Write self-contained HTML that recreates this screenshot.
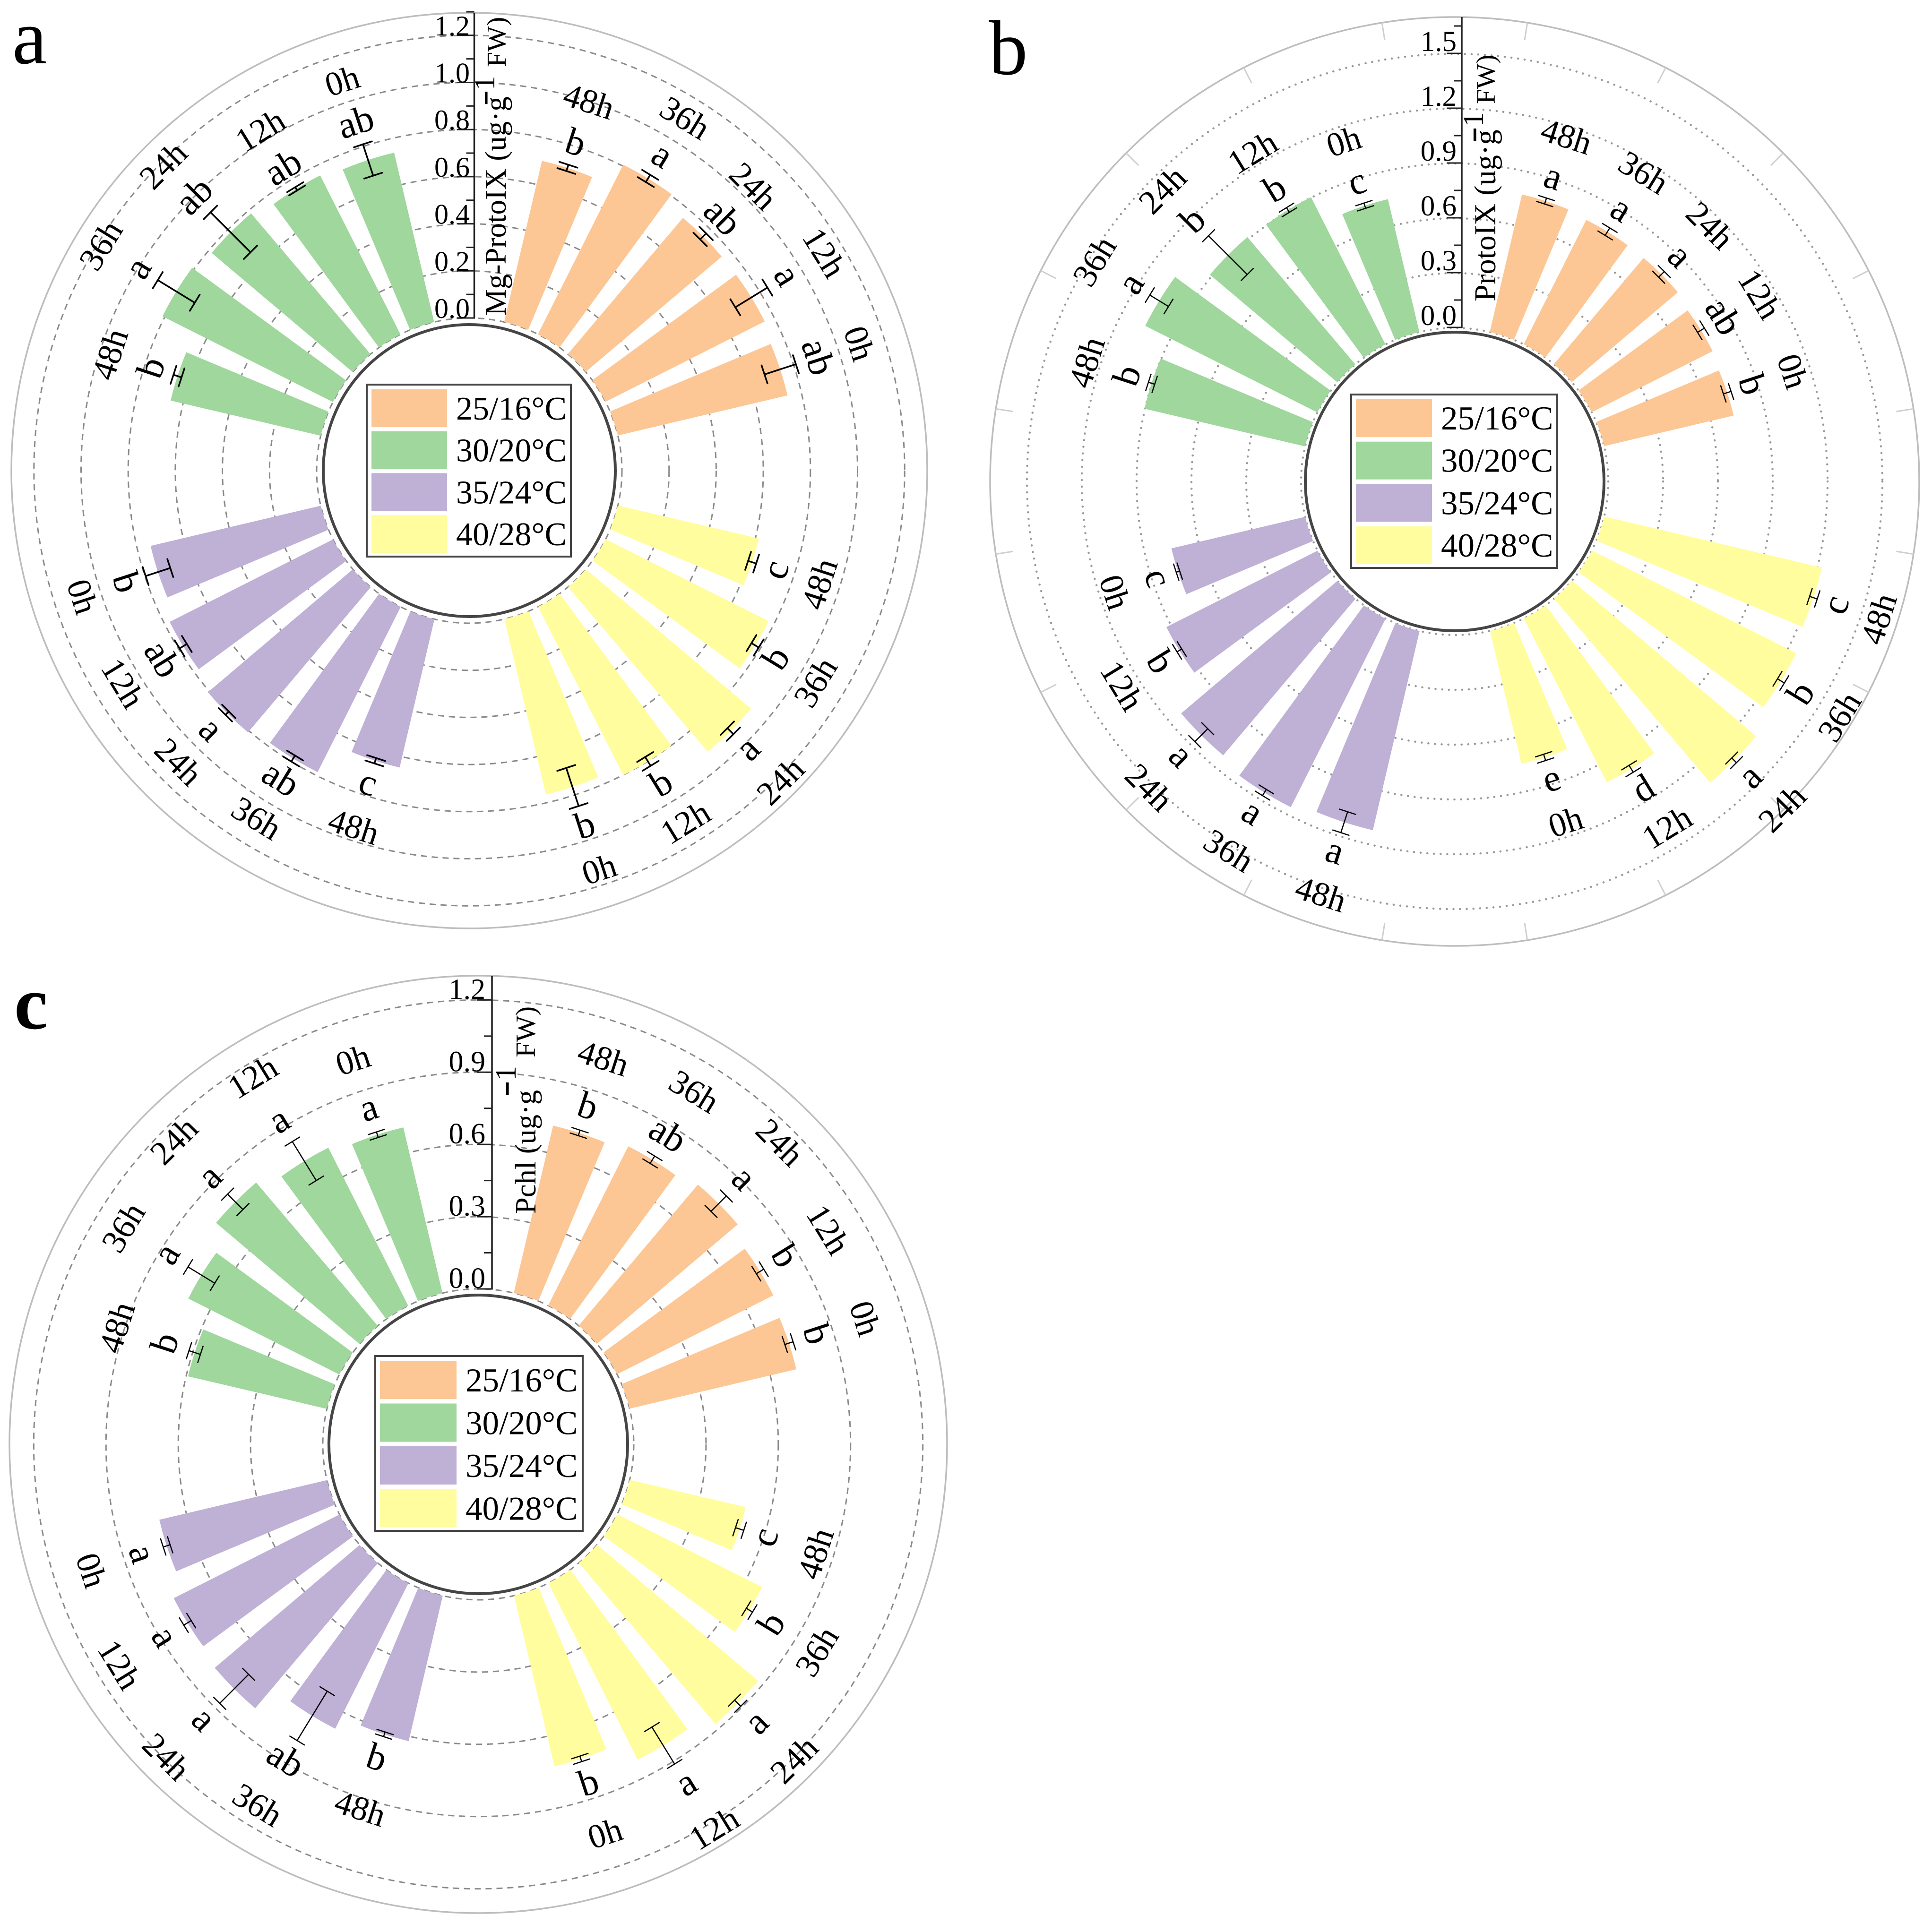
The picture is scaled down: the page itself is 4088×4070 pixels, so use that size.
<!DOCTYPE html>
<html lang="en">
<head>
<meta charset="utf-8">
<title>Radial bar charts of Mg-ProtoIX, ProtoIX and Pchl</title>
<style>
html,body{margin:0;padding:0;background:#fff;}
svg{display:block;}
text{font-family:"Liberation Serif","Noto Serif CJK SC",serif;fill:#000;}
</style>
</head>
<body>
<svg id="chart" xmlns="http://www.w3.org/2000/svg" width="4088" height="4070" viewBox="0 0 4088 4070">
  <rect x="0" y="0" width="4088" height="4070" fill="#ffffff"/>
  <g id="panel-a"></g>
  <g id="panel-b"></g>
  <g id="panel-c"></g>

  <text x="26" y="134" font-size="165">a</text>
  <text x="2092" y="157" font-size="165">b</text>
  <text x="30" y="2177" font-size="160" font-weight="bold">c</text>

  <text transform="translate(1070,668) rotate(-90)" font-size="63">Mg-ProtoIX (ug·g</text>
  <text transform="translate(1046,222) rotate(-90)" font-size="52" font-weight="bold" stroke="#000" stroke-width="2">−</text>
  <text transform="translate(1046,191) rotate(-90)" font-size="61">1</text>
  <text transform="translate(1070,142) rotate(-90)" font-size="58">FW)</text>

  <text transform="translate(3164,638) rotate(-90)" font-size="64.5">ProtoIX (ug·g</text>
  <text transform="translate(3138,300) rotate(-90)" font-size="52" font-weight="bold" stroke="#000" stroke-width="2">−</text>
  <text transform="translate(3138,268) rotate(-90)" font-size="61">1</text>
  <text transform="translate(3163,220) rotate(-90)" font-size="57">FW)</text>

  <text transform="translate(1133,2569) rotate(-90)" font-size="62.5">Pchl (ug·g</text>
  <text transform="translate(1091,2319) rotate(-90)" font-size="52" font-weight="bold" stroke="#000" stroke-width="2">−</text>
  <text transform="translate(1091,2287) rotate(-90)" font-size="62">1</text>
  <text transform="translate(1132,2238) rotate(-90)" font-size="59">FW)</text>
</svg>

<script>
// Shared categories
const timeCategories = ['48h', '36h', '24h', '12h', '0h'];
const treatments = ['25/16°C', '40/28°C', '35/24°C', '30/20°C'];
const legendOrder = ['25/16°C', '30/20°C', '35/24°C', '40/28°C'];

// Panel a: Mg-ProtoIX (clockwise from top)
const aOrangeValues = [0.703, 0.806, 0.757, 0.757, 0.740];
const aYellowValues = [0.614, 0.774, 0.918, 0.801, 0.765];
const aPurpleValues = [0.647, 0.785, 0.807, 0.777, 0.742];
const aGreenValues  = [0.654, 0.810, 0.784, 0.756, 0.739];
const aOrangeErrors = [0.014, 0.018, 0.018, 0.080, 0.070];
const aYellowErrors = [0.018, 0.018, 0.018, 0.022, 0.085];
const aPurpleErrors = [0.012, 0.015, 0.010, 0.018, 0.055];
const aGreenErrors  = [0.018, 0.092, 0.120, 0.008, 0.070];
const aOrangeLetters = ['b', 'a', 'ab', 'a', 'ab'];
const aYellowLetters = ['c', 'b', 'a', 'b', 'b'];
const aPurpleLetters = ['c', 'ab', 'a', 'ab', 'b'];
const aGreenLetters  = ['b', 'a', 'ab', 'ab', 'ab'];
const aTicks = [0.0, 0.2, 0.4, 0.6, 0.8, 1.0, 1.2];
const aTickLabels = ['0.0', '0.2', '0.4', '0.6', '0.8', '1.0', '1.2'];

// Panel b: ProtoIX
const bOrangeValues = [0.773, 0.762, 0.761, 0.741, 0.728];
const bYellowValues = [1.223, 1.252, 1.320, 1.005, 0.748];
const bPurpleValues = [1.120, 1.155, 1.122, 0.927, 0.752];
const bGreenValues  = [0.903, 1.055, 0.913, 0.903, 0.747];
const bOrangeErrors = [0.017, 0.024, 0.022, 0.022, 0.022];
const bYellowErrors = [0.022, 0.022, 0.018, 0.022, 0.018];
const bPurpleErrors = [0.060, 0.020, 0.050, 0.015, 0.010];
const bGreenErrors  = [0.018, 0.060, 0.150, 0.015, 0.015];
const bOrangeLetters = ['a', 'a', 'a', 'ab', 'b'];
const bYellowLetters = ['c', 'b', 'a', 'd', 'e'];
const bPurpleLetters = ['a', 'a', 'a', 'b', 'c'];
const bGreenLetters  = ['b', 'a', 'b', 'b', 'c'];
const bTicks = [0.0, 0.3, 0.6, 0.9, 1.2, 1.5];
const bTickLabels = ['0.0', '0.3', '0.6', '0.9', '1.2', '1.5'];

// Panel c: Pchl
const cOrangeValues = [0.714, 0.740, 0.767, 0.727, 0.711];
const cYellowValues = [0.495, 0.674, 0.876, 0.822, 0.728];
const cPurpleValues = [0.620, 0.676, 0.789, 0.771, 0.715];
const cGreenValues  = [0.592, 0.702, 0.780, 0.735, 0.707];
const cOrangeErrors = [0.012, 0.018, 0.045, 0.018, 0.018];
const cYellowErrors = [0.018, 0.015, 0.018, 0.090, 0.012];
const cPurpleErrors = [0.010, 0.120, 0.085, 0.018, 0.015];
const cGreenErrors  = [0.025, 0.065, 0.045, 0.095, 0.012];
const cOrangeLetters = ['b', 'ab', 'a', 'b', 'b'];
const cYellowLetters = ['c', 'b', 'a', 'a', 'b'];
const cPurpleLetters = ['b', 'ab', 'a', 'a', 'a'];
const cGreenLetters  = ['b', 'a', 'a', 'a', 'a'];
const cTicks = [0.0, 0.3, 0.6, 0.9, 1.2];
const cTickLabels = ['0.0', '0.3', '0.6', '0.9', '1.2'];

const NS = 'http://www.w3.org/2000/svg';
const colors = {'25/16°C': '#FCC795', '30/20°C': '#9FD79D', '35/24°C': '#BFB0D6', '40/28°C': '#FFFD9E'};

function make(parent, tag, attrs, txt) {
  const el = document.createElementNS(NS, tag);
  for (const k in attrs) el.setAttribute(k, attrs[k]);
  if (txt !== undefined) el.textContent = txt;
  parent.appendChild(el);
  return el;
}

function drawPanel(p) {
  const root = document.getElementById(p.id);
  const rad = v => p.r0 + v * p.unit;
  const barAngle = i => 13.2 + 13.5 * (i % 5) + 90 * Math.floor(i / 5);
  const pol = (r, deg) => {
    const t = deg * Math.PI / 180;
    return [p.cx + r * Math.sin(t), p.cy - r * Math.cos(t)];
  };
  const axisY = v => p.axisBase - v * p.unit;
  const rot = d => d < 90 ? d : (d < 270 ? d - 180 : d - 360);

  // Outer frame
  const outer = make(root, 'circle', {cx: p.cx, cy: p.cy, r: p.rOuter, fill: 'none', stroke: '#bdbdbd', 'stroke-width': 3.5});
  
  

  if (p.outerTicks) {
    for (let k = 0; k < 20; k++) {
      const a = pol(p.rOuter, 9 + 18 * k), b = pol(p.rOuter - 37, 9 + 18 * k);
      const tk = make(root, 'line', {x1: a[0], y1: a[1], x2: b[0], y2: b[1], stroke: '#cfcfcf', 'stroke-width': 3});
      
      
    }
  }

  // Rings
  p.ticks.forEach(v => {
    const ring = make(root, 'circle', {cx: p.cx, cy: p.cy, r: rad(v), fill: 'none', stroke: p.ringColor, 'stroke-width': p.ringWidth, 'stroke-dasharray': p.ringDash, 'stroke-linecap': p.ringCap});
    
    
  });

  // Bars, error bars, letters, time labels
  const series = [
    {t: treatments[0], v: p.values[0], e: p.errors[0], l: p.letters[0]},
    {t: treatments[1], v: p.values[1], e: p.errors[1], l: p.letters[1]},
    {t: treatments[2], v: p.values[2], e: p.errors[2], l: p.letters[2]},
    {t: treatments[3], v: p.values[3], e: p.errors[3], l: p.letters[3]}
  ];
  series.forEach((s, si) => {
    s.v.forEach((val, j) => {
      const a0 = barAngle(si * 5 + j), a1 = a0 + 9.5;
      const rv = rad(val);
      const A = pol(p.r0, a0), B = pol(rv, a0), C = pol(rv, a1), D = pol(p.r0, a1);
      const d = 'M' + A + ' L' + B + ' A' + rv + ' ' + rv + ' 0 0 1 ' + C + ' L' + D + ' A' + p.r0 + ' ' + p.r0 + ' 0 0 0 ' + A + ' Z';
      const bar = make(root, 'path', {d: d, fill: colors[s.t]});
      
      
    });
  });
  series.forEach((s, si) => {
    s.v.forEach((val, j) => {
      const mid = barAngle(si * 5 + j) + 4.75;
      const rv = rad(val), re = s.e[j] * p.unit;
      const lo = pol(rv - re, mid), hi = pol(rv + re, mid);
      const t = mid * Math.PI / 180, ux = Math.cos(t), uy = Math.sin(t), c = p.capHalf;
      const eg = make(root, 'g', {stroke: '#000', 'stroke-width': p.errWidth, 'stroke-linecap': 'round', fill: 'none'});
      
      
      make(eg, 'line', {x1: lo[0], y1: lo[1], x2: hi[0], y2: hi[1]});
      make(eg, 'line', {x1: lo[0] - ux * c, y1: lo[1] - uy * c, x2: lo[0] + ux * c, y2: lo[1] + uy * c});
      make(eg, 'line', {x1: hi[0] - ux * c, y1: hi[1] - uy * c, x2: hi[0] + ux * c, y2: hi[1] + uy * c});

      const lr = rv + re + p.letterGap;
      const lp = pol(lr, mid);
      const letter = make(root, 'text', {'text-anchor': 'middle', 'font-size': p.letterSize, dy: '.28em', transform: 'translate(' + lp[0] + ',' + lp[1] + ') rotate(' + rot(mid) + ')'}, s.l[j]);
      
      

      const tp = pol(lr + p.timeGap, mid);
      const time = make(root, 'text', {'text-anchor': 'middle', 'font-size': p.timeSize, dy: '.33em', transform: 'translate(' + tp[0] + ',' + tp[1] + ') rotate(' + rot(mid) + ')'}, timeCategories[j]);
      
      
    });
  });

  // Centre disc
  const disc = make(root, 'circle', {cx: p.cx, cy: p.cy, r: p.rInner, fill: '#fff', stroke: '#454545', 'stroke-width': 6});
  
  

  // Value axis
  const axis = make(root, 'line', {x1: p.axisX, y1: p.axisTop, x2: p.axisX, y2: p.axisBase + 1.5, stroke: '#222', 'stroke-width': 3.5});
  
  
  const step = p.ticks[1] - p.ticks[0];
  for (let n = 0; n <= p.minorCount; n++) {
    const v = n * step / 2, major = n % 2 === 0;
    const y = axisY(v);
    const tk = make(root, 'line', {x1: p.axisX - (major ? p.majorLen : 17), y1: y, x2: p.axisX, y2: y, stroke: '#222', 'stroke-width': 3});
    
    
  }
  p.ticks.forEach((v, n) => {
    const lab = make(root, 'text', {x: p.tickRight, y: axisY(v) + p.tickDy, 'text-anchor': 'end', 'font-size': p.tickSize}, p.tickLabels[n]);
    
    
  });

  // Legend
  const lg = make(root, 'g', {});
  
  
  const box = make(lg, 'rect', {x: p.legend.x, y: p.legend.y, width: p.legend.w, height: p.legend.h, fill: '#fff', stroke: '#444', 'stroke-width': 4});
  
  
  legendOrder.forEach((name, n) => {
    const top = p.legend.y + 10 + n * p.legend.rowStep;
    const sw = make(lg, 'rect', {x: p.legend.x + 10, y: top, width: p.legend.swW, height: p.legend.swH, fill: colors[name]});
    
    
    const tx = make(lg, 'text', {x: p.legend.x + 10 + p.legend.swW + 19, y: top + p.legend.swH * 0.8, 'font-size': p.legend.font}, name);
    
    
  });
}

drawPanel({
  id: 'panel-a', cx: 993, cy: 996, rOuter: 969, rInner: 309, r0: 323, unit: 498.5,
  ticks: aTicks, tickLabels: aTickLabels, minorCount: 13,
  values: [aOrangeValues, aYellowValues, aPurpleValues, aGreenValues],
  errors: [aOrangeErrors, aYellowErrors, aPurpleErrors, aGreenErrors],
  letters: [aOrangeLetters, aYellowLetters, aPurpleLetters, aGreenLetters],
  ringColor: '#8a8a8a', ringWidth: 3, ringDash: '13 10', ringCap: 'butt', outerTicks: false,
  capHalf: 20, errWidth: 3.5, letterGap: 46, timeGap: 95, letterSize: 80, timeSize: 72,
  axisX: 1003.5, axisTop: 28, axisBase: 673, majorLen: 37, tickRight: 994, tickSize: 60, tickDy: 0,
  legend: {x: 776, y: 814, w: 432, h: 364, rowStep: 88.7, swW: 160, swH: 80, font: 70}
});

drawPanel({
  id: 'panel-b', cx: 3078, cy: 1019, rOuter: 983, rInner: 316, r0: 325, unit: 386.7,
  ticks: bTicks, tickLabels: bTickLabels, minorCount: 11,
  values: [bOrangeValues, bYellowValues, bPurpleValues, bGreenValues],
  errors: [bOrangeErrors, bYellowErrors, bPurpleErrors, bGreenErrors],
  letters: [bOrangeLetters, bYellowLetters, bPurpleLetters, bGreenLetters],
  ringColor: '#999999', ringWidth: 4.5, ringDash: '0.1 14', ringCap: 'round', outerTicks: true,
  capHalf: 18, errWidth: 2.5, letterGap: 44, timeGap: 93, letterSize: 80, timeSize: 72,
  axisX: 3093, axisTop: 36, axisBase: 693, majorLen: 32, tickRight: 3082, tickSize: 61, tickDy: -5,
  legend: {x: 2859, y: 835, w: 436, h: 367, rowStep: 89.7, swW: 161, swH: 80, font: 71}
});

drawPanel({
  id: 'panel-c', cx: 1012, cy: 3057, rOuter: 992, rInner: 316, r0: 329, unit: 509.7,
  ticks: cTicks, tickLabels: cTickLabels, minorCount: 8,
  values: [cOrangeValues, cYellowValues, cPurpleValues, cGreenValues],
  errors: [cOrangeErrors, cYellowErrors, cPurpleErrors, cGreenErrors],
  letters: [cOrangeLetters, cYellowLetters, cPurpleLetters, cGreenLetters],
  ringColor: '#8a8a8a', ringWidth: 3, ringDash: '13 10', ringCap: 'butt', outerTicks: false,
  capHalf: 18, errWidth: 2.5, letterGap: 50, timeGap: 110, letterSize: 80, timeSize: 72,
  axisX: 1041, axisTop: 2066, axisBase: 2728, majorLen: 32, tickRight: 1027, tickSize: 62, tickDy: -2,
  legend: {x: 794, y: 2870, w: 439, h: 370, rowStep: 90.5, swW: 162, swH: 81, font: 71}
});
</script>
</body>
</html>
